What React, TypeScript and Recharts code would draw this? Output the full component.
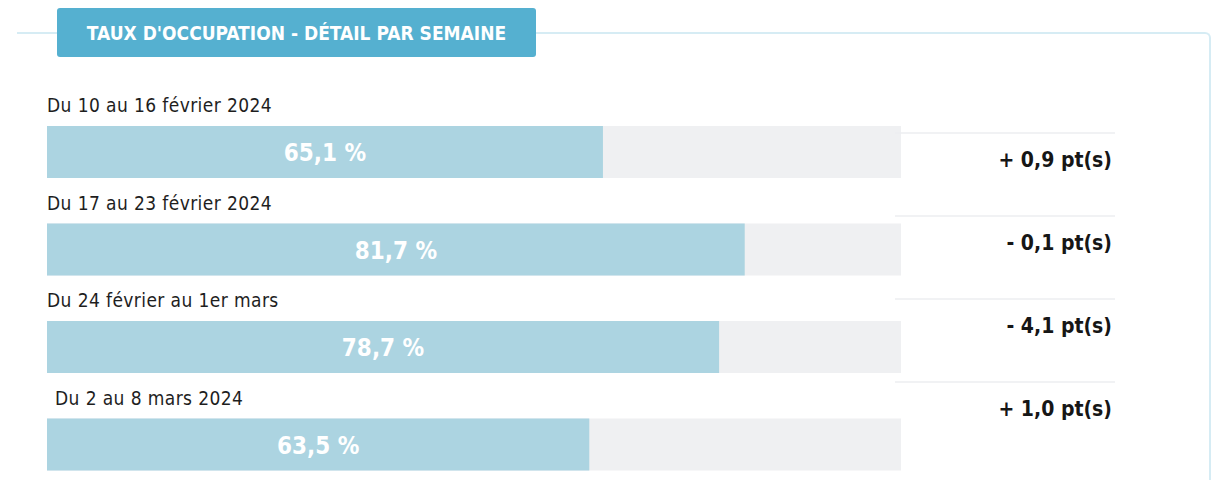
import React from "react";
import { BarChart, Bar, XAxis, YAxis, LabelList } from "recharts";

const TITLE = "TAUX D'OCCUPATION - DÉTAIL PAR SEMAINE";
const WEEKS = [
  "Du 10 au 16 février 2024",
  "Du 17 au 23 février 2024",
  "Du 24 février au 1er mars",
  "Du 2 au 8 mars 2024",
];
const RATES = [65.1, 81.7, 78.7, 63.5];
const DELTAS = [0.9, -0.1, -4.1, 1.0];

const W = 1218;
const FONT = "'DejaVu Sans Condensed', 'Liberation Sans Narrow', 'Roboto', sans-serif";
const M1 = { top: 103, right: 317, bottom: 7, left: 47 };
const M2 = { top: 118, right: 106, bottom: 30, left: 895 };
const DELTA_RIGHT = W - M2.right;

const rows = WEEKS.map((w, i) => ({ week: w, rate: RATES[i] }));
const deltaRows = DELTAS.map((d, i) => ({ key: "d" + i, delta: d }));

const fmtRate = (v: number) => v.toFixed(1).replace(".", ",") + " %";
const fmtDelta = (v: number) =>
  (v >= 0 ? "+ " : "- ") + Math.abs(v).toFixed(1).replace(".", ",") + " pt(s)";

const box = (p: any) => {
  const vb = p.viewBox || {};
  return {
    x: Number(vb.x ?? p.x),
    y: Number(vb.y ?? p.y),
    w: Number(vb.width ?? p.width),
    h: Number(vb.height ?? p.height),
  };
};

const WeekLabel = (p: any) => {
  const b = box(p);
  const idx = p.index ?? 0;
  return (
    <text
      x={b.x + (idx === 3 ? 8 : 0)}
      y={b.y - 14}
      fill="#1e1e1e"
      fontSize={19}
      letterSpacing={0.4}
      fontFamily={FONT}
    >
      {WEEKS[idx]}
    </text>
  );
};

const RateLabel = (p: any) => {
  const b = box(p);
  return (
    <text
      x={b.x + b.w / 2}
      y={b.y + b.h / 2 + 1}
      fill="#ffffff"
      fontSize={24}
      fontWeight="bold"
      fontFamily={FONT}
      textAnchor="middle"
      dominantBaseline="central"
    >
      {fmtRate(Number(p.value))}
    </text>
  );
};

const DeltaLabel = (p: any) => {
  const b = box(p);
  const cy = b.y + b.h / 2;
  return (
    <g>
      <line x1={M2.left} x2={DELTA_RIGHT + 3} y1={cy - 27} y2={cy - 27} stroke="#eceef1" strokeWidth={1.5} />
      <text
        x={DELTA_RIGHT}
        y={cy}
        fill="#161616"
        fontSize={21}
        fontWeight="bold"
        fontFamily={FONT}
        textAnchor="end"
        dominantBaseline="central"
      >
        {fmtDelta(Number(p.value))}
      </text>
    </g>
  );
};

export default function App() {
  return (
    <div
      style={{
        position: "fixed",
        left: 0,
        top: 0,
        width: W,
        height: 480,
        overflow: "hidden",
        background: "#ffffff",
        fontFamily: FONT,
      }}
    >
      <div
        style={{
          position: "absolute",
          left: 17,
          top: 32,
          width: 1194,
          height: 480,
          borderTop: "2px solid #d6ecf4",
          borderRight: "2px solid #d6ecf4",
          borderTopRightRadius: 6,
          boxSizing: "border-box",
        }}
      />
      <div
        style={{
          position: "absolute",
          left: 57,
          top: 8,
          width: 479,
          height: 49,
          background: "#55b0d0",
          borderRadius: 3,
          color: "#ffffff",
          fontWeight: "bold",
          fontSize: 19,
          display: "flex",
          alignItems: "center",
          justifyContent: "center",
          letterSpacing: 0,
        }}
      >
        {TITLE}
      </div>
      <div style={{ position: "absolute", left: 0, top: 0 }}>
        <BarChart width={W} height={500} data={rows} layout="vertical" margin={M1}>
          <XAxis type="number" domain={[0, 100]} hide />
          <YAxis type="category" dataKey="week" hide />
          <Bar
            dataKey="rate"
            fill="#acd4e1"
            barSize={52}
            background={{ fill: "#eff0f2" }}
            isAnimationActive={false}
          >
            <LabelList dataKey="rate" content={RateLabel} />
            <LabelList dataKey="rate" content={WeekLabel} />
          </Bar>
        </BarChart>
      </div>
      <div style={{ position: "absolute", left: 0, top: 0 }}>
        <BarChart width={W} height={480} data={deltaRows} layout="vertical" margin={M2}>
          <XAxis type="number" domain={[-5, 5]} hide />
          <YAxis type="category" dataKey="key" hide />
          <Bar dataKey="delta" fill="transparent" barSize={20} isAnimationActive={false}>
            <LabelList dataKey="delta" content={DeltaLabel} />
          </Bar>
        </BarChart>
      </div>
    </div>
  );
}
